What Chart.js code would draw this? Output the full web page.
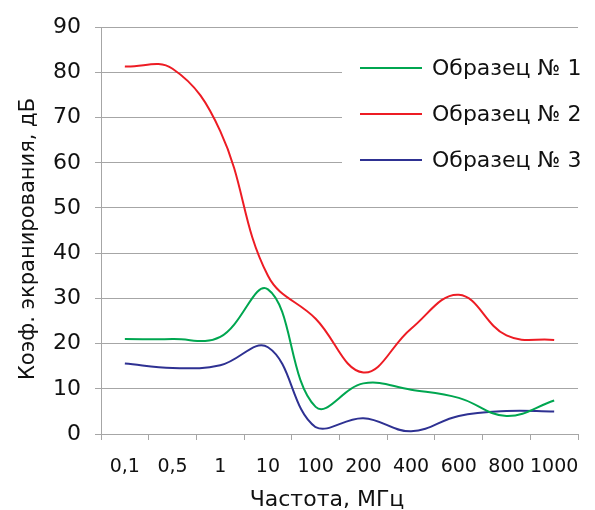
<!DOCTYPE html>
<html>
<head>
<meta charset="utf-8">
<script src="https://cdn.jsdelivr.net/npm/chart.js@4/dist/chart.umd.min.js"></script>
<style>
  html, body { margin: 0; padding: 0; background: #fff; }
</style>
</head>
<body>
<canvas id="shielding" width="595" height="510"></canvas>
<script>
// частоты, МГц (категории)
const freqs = ['0,1', '0,5', '1', '10', '100', '200', '400', '600', '800', '1000'];
const sample1 = [21, 21, 21.5, 32, 6, 11.2, 9.8, 8, 4, 7.4];
const sample2 = [81.3, 80.8, 67, 35, 25.5, 13.6, 23.3, 30.8, 21.8, 20.8];
const sample3 = [15.6, 14.6, 15.2, 19.2, 1.5, 3.5, 0.6, 4, 5.1, 5];
const yMin = 0, yMax = 90, yStep = 10;

const xTitle = 'Частота, МГц';
const yTitle = 'Коэф. экранирования, дБ';

const FONT = 'DejaVu Sans, Verdana, sans-serif';
const GRID = '#a6a6a6';
const TEXT = '#111';

// легенда внутри области графика на белой подложке + подписи осей
const extras = {
  id: 'extras',
  beforeDatasetsDraw(chart) {
    const ctx = chart.ctx;
    ctx.save();
    ctx.fillStyle = '#fff';
    ctx.fillRect(342, 34, chart.chartArea.right - 342 + 1, 160);
    ctx.restore();
  },
  afterDatasetsDraw(chart) {
    const ctx = chart.ctx;
    ctx.save();
    ctx.font = '22px ' + FONT;
    ctx.textBaseline = 'middle';
    chart.data.datasets.forEach((ds, i) => {
      const y = 68 + i * 46;
      ctx.strokeStyle = ds.borderColor;
      ctx.lineWidth = 2;
      ctx.beginPath();
      ctx.moveTo(360, y);
      ctx.lineTo(422, y);
      ctx.stroke();
      ctx.fillStyle = TEXT;
      ctx.fillText(ds.label, 432, y + 1);
    });

    // axis titles
    ctx.fillStyle = TEXT;
    ctx.textAlign = 'center';
    ctx.textBaseline = 'alphabetic';
    ctx.font = '22px ' + FONT;
    ctx.fillText(xTitle, 327, 506);
    ctx.translate(34, 239);
    ctx.rotate(-Math.PI / 2);
    ctx.font = '21px ' + FONT;
    ctx.fillText(yTitle, 0, 0);
    ctx.restore();
  }
};

new Chart(document.getElementById('shielding'), {
  type: 'line',
  data: {
    labels: freqs,
    datasets: [
      { label: 'Образец № 1', data: sample1, borderColor: '#00a650' },
      { label: 'Образец № 2', data: sample2, borderColor: '#ed1c24' },
      { label: 'Образец № 3', data: sample3, borderColor: '#2e3192' }
    ]
  },
  options: {
    responsive: false,
    animation: false,
    devicePixelRatio: 1,
    layout: { padding: { top: 24, right: 13, left: 0, bottom: 0 } },
    elements: {
      line: { tension: 0.4, borderWidth: 2, fill: false },
      point: { radius: 0 }
    },
    plugins: {
      legend: { display: false },
      tooltip: { enabled: false }
    },
    scales: {
      x: {
        offset: true,
        grid: { offset: true, drawOnChartArea: false, drawTicks: true, tickLength: 6, color: GRID },
        border: { color: GRID },
        ticks: { color: TEXT, font: { family: FONT, size: 19 }, padding: 16, maxRotation: 0, autoSkip: false },
        afterFit(scale) { scale.height = 76; }
      },
      y: {
        min: yMin, max: yMax,
        ticks: { stepSize: yStep, color: TEXT, font: { family: FONT, size: 22 }, padding: 14 },
        grid: { color: GRID, tickLength: 6 },
        border: { color: GRID },
        afterFit(scale) { scale.width = 101; }
      }
    }
  },
  plugins: [extras]
});
</script>
</body>
</html>
